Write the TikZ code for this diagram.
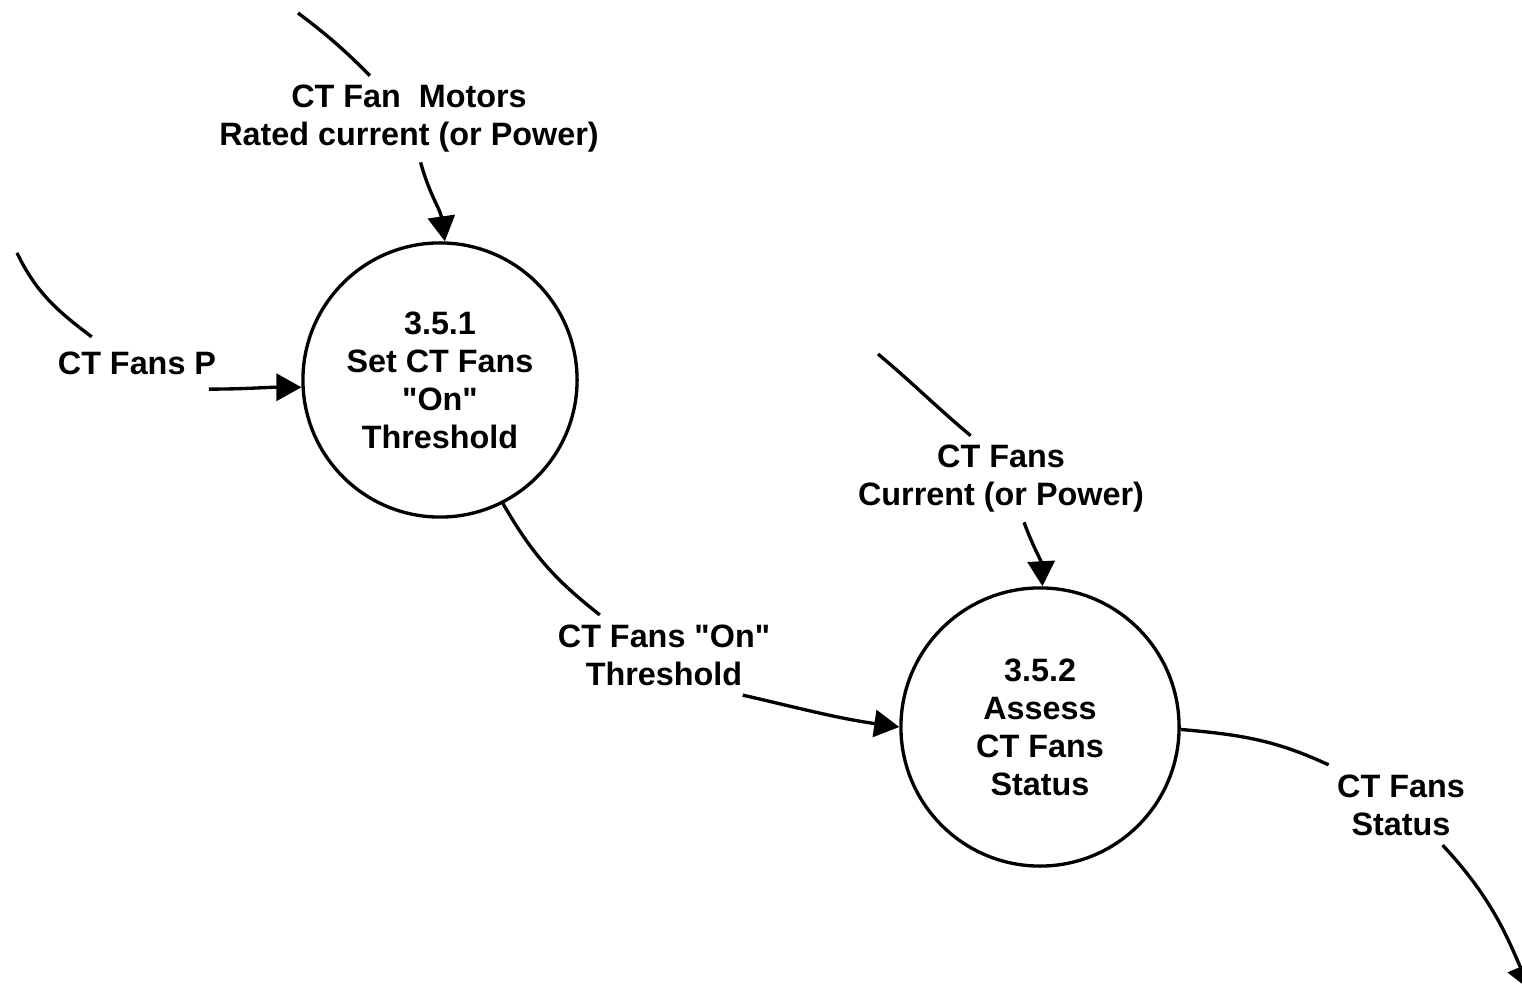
\documentclass[tikz,border=0pt]{standalone}
\usepackage{fontspec}
\setmainfont{Liberation Sans}
\usetikzlibrary{arrows.meta}

\begin{document}
\begin{tikzpicture}[x=0.01cm,y=0.01cm,>={Triangle[length=0.25cm,width=0.27cm]},
    line width=0.95pt,font=\bfseries\fontsize{9.2}{10.8}\selectfont,
    process/.style={circle,draw,inner sep=0pt,align=center},
    flow/.style={align=center,inner sep=0.08cm}]
  \useasboundingbox (0,0) rectangle (1522,-986);
  % the two processes
  \node[process,minimum size=2.74cm] (p1) at (440,-380)
    {3.5.1\\Set CT Fans\\\textquotedbl On\textquotedbl\\Threshold};
  \node[process,minimum size=2.78cm] (p2) at (1040,-727) {3.5.2\\Assess\\CT Fans\\Status};
  % flow names, each one sits in a gap of its own connector
  \node[flow] (rated) at (409,-119) {CT Fan\ \ Motors\\Rated current (or Power)};
  \node[flow,inner sep=0.13cm] (fansp) at (137,-363) {CT Fans P};
  \node[flow] (onthr) at (664,-655) {CT Fans \textquotedbl On\textquotedbl\\Threshold};
  \node[flow] (current) at (1001,-479) {CT Fans\\Current (or Power)};
  \node[flow] (status) at (1401,-805) {CT Fans\\Status};
  % free ends of the flows coming from outside the picture
  \coordinate (ratedsrc) at (298,-13);
  \coordinate (fanspsrc) at (17,-253);
  \coordinate (currentsrc) at (878,-354);
  \coordinate (statusdst) at (1530,-990);
  % into 3.5.1
  \draw (ratedsrc) to[out=-37,in=135] (rated.132);
  \draw[->] (rated.-75) to[out=-75,in=98] (p1.88);
  \draw (fanspsrc) to[out=-64,in=143] (fansp.150);
  \draw[->] (fansp.-20) to[out=0,in=180] (p1.183);
  % 3.5.1 to 3.5.2
  \draw (p1.-63) to[out=-60,in=142] (onthr.148);
  \draw[->] (onthr.-27) to[out=-13,in=172] (p2.180);
  % into and out of 3.5.2
  \draw (currentsrc) to[out=-40,in=140] (current.125);
  \draw[->] (current.-62) to[out=-70,in=93] (p2.89);
  \draw (p2.-1) to[out=-5,in=155] (status.151);
  \draw[->] (status.-44) to[out=-47,in=113] (statusdst);
\end{tikzpicture}
\end{document}
